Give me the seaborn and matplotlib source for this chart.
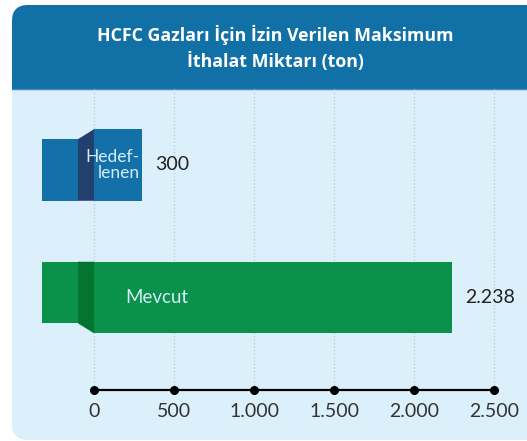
import matplotlib
matplotlib.use("Agg")
import matplotlib.pyplot as plt
import seaborn as sns
from matplotlib.patches import FancyBboxPatch, Rectangle, Polygon

# data
categories = ["Hedeflenen", "Mevcut"]
values = [300, 2238]
inner_labels = ["Hedef-\nlenen", "Mevcut"]
tick_values = [0, 500, 1000, 1500, 2000, 2500]
title = "HCFC Gazları İçin İzin Verilen Maksimum\nİthalat Miktarı (ton)"

bar_colors = ["#1470a8", "#0a914a"]
fold_colors = ["#233f6e", "#03752f"]
header_col = "#1170a5"
panel_col = "#dcf0fb"


def fmt(v):
    return f"{v:,}".replace(",", ".")


sns.set_theme(style="white")
plt.rcParams["font.family"] = ["Lato", "DejaVu Sans"]

W, H = 527, 441
fig = plt.figure(figsize=(W / 100, H / 100), dpi=100)
fig.patch.set_facecolor("white")

# background panel and header, in pixel coords
bg = fig.add_axes([0, 0, 1, 1])
bg.set_xlim(0, W)
bg.set_ylim(H, 0)
bg.axis("off")
bg.add_patch(FancyBboxPatch((12, 5), 560, 435, boxstyle="round,pad=0,rounding_size=16",
                            fc=panel_col, ec="none"))
bg.add_patch(FancyBboxPatch((12, 5), 560, 100, boxstyle="round,pad=0,rounding_size=16",
                            fc=header_col, ec="none"))
bg.add_patch(Rectangle((12, 89), 560, 20, fc=panel_col, ec="none"))
bg.plot([12, W], [89, 89], color="#3a8cc0", lw=1)
bg.text(275, 48, title, ha="center", va="center", color="white", fontsize=12.8,
        fontweight="bold", family=["Open Sans", "DejaVu Sans"], linespacing=1.5)

# plot axes
ax = fig.add_axes([12 / W, 1 / H, 515 / W, 351 / H])
ax.patch.set_visible(False)
sns.barplot(x=values, y=categories, hue=categories, palette=bar_colors,
            width=0.54, orient="h", legend=False, ax=ax, saturation=1, linewidth=0)
for p in ax.patches:
    p.set_zorder(3)

ux = 6.25  # data units per pixel
ax.set_xlim(-82 * ux, 433 * ux)
ax.set_ylim((440 - 165) / 132.5, (89 - 165) / 132.5)
ax.axis("off")

# folded flap on the left of each bar
half = 0.27
shift = 0.075
for i, (col, dark) in enumerate(zip(bar_colors, fold_colors)):
    top, bot = i - half, i + half
    if i == 0:
        ftop, fbot = top + shift, bot
    else:
        ftop, fbot = top, bot - shift
    poly = [(-100, ftop), (0, top), (0, bot), (-100, fbot)]
    ax.add_patch(Rectangle((-325, ftop), 225, fbot - ftop, fc=col, ec="none", zorder=3))
    ax.add_patch(Polygon(poly, closed=True, fc=dark, ec="none", zorder=3))

# labels inside and beside bars
ax.text(values[0] - 15, 0, inner_labels[0], ha="right", va="center", color="#d4ecf8",
        fontsize=12.5, linespacing=0.95, zorder=5)
ax.text(390, 1, inner_labels[1], ha="center", va="center", color="#d4ecf8",
        fontsize=13.5, zorder=5)
for i, v in enumerate(values):
    ax.text(v + 80, i, fmt(v), ha="left", va="center", color="#222222", fontsize=14, zorder=5)

# grid, axis line and ticks
axis_y = (390 - 165) / 132.5
grid_top = (89 - 165) / 132.5
ax.vlines(tick_values, grid_top, axis_y, colors="#c5ccd2", linestyles=(0, (1, 1.5)), lw=1, zorder=1)
ax.plot([tick_values[0], tick_values[-1]], [axis_y, axis_y], color="black", lw=1.6, zorder=4)
ax.scatter(tick_values, [axis_y] * len(tick_values), s=30, color="black", zorder=5)
for t in tick_values:
    ax.text(t, axis_y + 0.16, fmt(t), ha="center", va="center", color="#333333", fontsize=14)

fig.savefig("out.png", dpi=100, facecolor="white")
